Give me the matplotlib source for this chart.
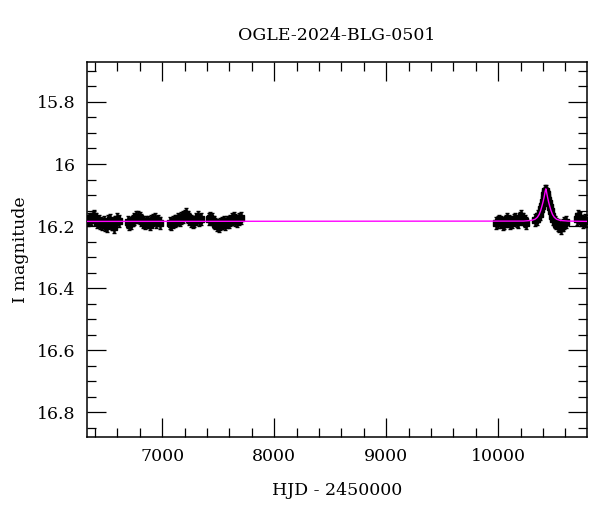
import matplotlib
matplotlib.use("Agg")
import matplotlib.pyplot as plt
from matplotlib.ticker import MultipleLocator, FuncFormatter

plt.rcParams['font.family'] = ['DejaVu Serif']

title = "OGLE-2024-BLG-0501"
xlabel = "HJD - 2450000"
ylabel = "I magnitude"

# Observed photometry, per season (HJD-2450000, I mag)
t_s1 = [6335, 6350, 6364, 6378, 6392, 6405, 6420, 6434, 6448, 6462, 6476, 6490, 6505, 6520, 6535, 6550, 6565, 6580, 6595, 6612]
m_s1 = [16.182, 16.178, 16.176, 16.170, 16.166, 16.176, 16.188, 16.182, 16.192, 16.194, 16.186, 16.197, 16.200, 16.184, 16.180, 16.194, 16.203, 16.188, 16.178, 16.184]

t_s2 = [6692, 6707, 6722, 6737, 6752, 6767, 6782, 6797, 6812, 6827, 6842, 6857, 6872, 6887, 6902, 6917, 6932, 6947, 6962, 6976]
m_s2 = [16.188, 16.194, 16.190, 16.182, 16.176, 16.172, 16.170, 16.174, 16.180, 16.188, 16.192, 16.185, 16.188, 16.195, 16.184, 16.180, 16.176, 16.188, 16.182, 16.190]

t_s3 = [7066, 7081, 7096, 7111, 7126, 7141, 7156, 7171, 7186, 7201, 7212, 7226, 7241, 7256, 7271, 7286, 7301, 7316, 7331, 7350]
m_s3 = [16.190, 16.194, 16.188, 16.184, 16.182, 16.178, 16.180, 16.174, 16.170, 16.166, 16.160, 16.172, 16.178, 16.184, 16.188, 16.185, 16.176, 16.172, 16.180, 16.178]

t_s4 = [7414, 7429, 7444, 7459, 7474, 7489, 7504, 7519, 7534, 7549, 7564, 7579, 7594, 7609, 7624, 7639, 7654, 7669, 7684, 7704]
m_s4 = [16.178, 16.174, 16.178, 16.186, 16.192, 16.197, 16.199, 16.194, 16.190, 16.186, 16.194, 16.188, 16.186, 16.182, 16.176, 16.174, 16.180, 16.184, 16.178, 16.174]

t_s5 = [9984, 9998, 10012, 10026, 10040, 10054, 10068, 10082, 10096, 10110, 10124, 10138, 10152, 10166, 10180, 10194, 10208, 10222, 10236, 10250]
m_s5 = [16.190, 16.186, 16.182, 16.188, 16.194, 16.190, 16.184, 16.178, 16.184, 16.190, 16.186, 16.180, 16.176, 16.183, 16.188, 16.174, 16.168, 16.178, 16.184, 16.190]

t_s6 = [10332, 10346, 10360, 10372, 10384, 10394, 10402, 10408, 10414, 10419, 10423, 10427, 10431, 10435, 10440,
        10446, 10452, 10460, 10470, 10480, 10492, 10505, 10518, 10532, 10546, 10560, 10575, 10590, 10606]
m_s6 = [16.180, 16.176, 16.168, 16.160, 16.146, 16.136, 16.122, 16.112, 16.100, 16.092, 16.087, 16.086, 16.092, 16.098, 16.106,
        16.116, 16.126, 16.140, 16.152, 16.166, 16.176, 16.186, 16.192, 16.196, 16.200, 16.206, 16.196, 16.190, 16.186]

t_s7 = [10702, 10716, 10730, 10744, 10758, 10772, 10786]
m_s7 = [16.176, 16.166, 16.174, 16.182, 16.188, 16.180, 16.184]

mag_err = 0.019

# Microlensing model curve (sampled)
t_model = [6300, 10226, 10296, 10330, 10350, 10366, 10380, 10392, 10402, 10410, 10416, 10421, 10426,
           10431, 10436, 10442, 10450, 10460, 10472, 10486, 10502, 10522, 10556, 10626, 10800]
m_model = [16.185, 16.184, 16.182, 16.178, 16.172, 16.163, 16.150, 16.135, 16.121, 16.108, 16.097, 16.087, 16.080,
           16.087, 16.097, 16.108, 16.121, 16.135, 16.150, 16.163, 16.172, 16.178, 16.182, 16.184, 16.185]

fig = plt.figure(figsize=(6.0, 5.12), dpi=100)
ax = fig.add_axes([0.145, 0.1465, 0.833, 0.7325])

seasons = [(t_s1, m_s1), (t_s2, m_s2), (t_s3, m_s3), (t_s4, m_s4), (t_s5, m_s5), (t_s6, m_s6), (t_s7, m_s7)]
for t, m in seasons:
    ax.errorbar(t, m, yerr=mag_err, fmt='s', color='black', ms=5, elinewidth=1.8,
                capsize=1.5, capthick=1.0, zorder=2)

ax.plot(t_model, m_model, color='#ff00ff', lw=1.0, zorder=3)

ax.set_xlim(6328, 10792)
ax.set_ylim(16.88, 15.671)

ax.xaxis.set_major_locator(MultipleLocator(1000))
ax.xaxis.set_minor_locator(MultipleLocator(200))
ax.yaxis.set_major_locator(MultipleLocator(0.2))
ax.yaxis.set_minor_locator(MultipleLocator(0.05))
ax.yaxis.set_major_formatter(FuncFormatter(lambda v, p: ('%g' % round(v, 2))))

ax.tick_params(which='both', direction='in', top=True, right=True, labelsize=12.5, pad=8)
ax.tick_params(which='major', length=13.5, width=0.9)
ax.tick_params(which='minor', length=6.5, width=0.9)
for s in ax.spines.values():
    s.set_linewidth(1.1)

ax.set_xlabel(xlabel, fontsize=12.5, labelpad=12)
ax.set_ylabel(ylabel, fontsize=12.5)
ax.yaxis.set_label_coords(-0.116, 0.5)
ax.set_title(title, fontsize=12.5, pad=16)

fig.savefig("out.png", dpi=100)
